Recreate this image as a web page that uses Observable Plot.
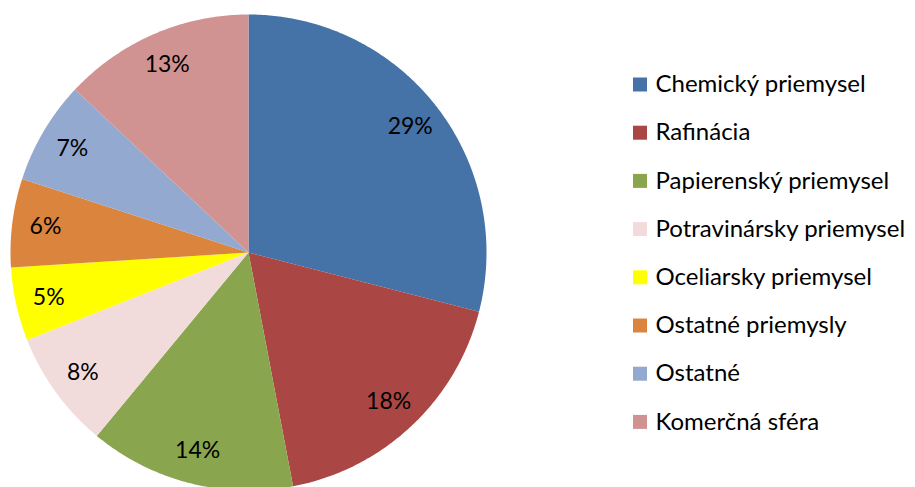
<!DOCTYPE html>
<html><head><meta charset="utf-8">
<script src="https://cdn.jsdelivr.net/npm/d3@7"></script>
<script src="https://cdn.jsdelivr.net/npm/@observablehq/plot@0.6"></script>
<style>body{margin:0;background:#fff;} #chart{width:915px;height:487px;overflow:hidden;}</style>
</head><body><div id="chart"></div>
<script>
const categories = ["Chemický priemysel","Rafinácia","Papierenský priemysel","Potravinársky priemysel","Oceliarsky priemysel","Ostatné priemysly","Ostatné","Komerčná sféra"];
const values = [29, 18, 14, 8, 5, 6, 7, 13];
const labels = ["29%","18%","14%","8%","5%","6%","7%","13%"];
const colors = ["#4572A7","#AA4643","#89A54E","#F2DCDB","#FFFF00","#DB843D","#93A9CF","#D19392"];

const W = 915, H = 487;
const cx = 248, cy = 252, R = 238;
const xRange = [cx - R, cx + R], yRange = [cy + R, cy - R];
const px = d3.scaleLinear().domain([-1, 1]).range(xRange);
const py = d3.scaleLinear().domain([-1, 1]).range(yRange);

const total = d3.sum(values);
const arcs = [];
const labelPts = [];
let acc = 0;
values.forEach((v, i) => {
  const a0 = acc / total * 2 * Math.PI;
  const a1 = (acc + v) / total * 2 * Math.PI;
  acc += v;
  arcs.push({cat: categories[i], x: 0, y: 0, k: 0});
  const n = Math.max(2, Math.ceil((a1 - a0) / 0.01));
  for (let j = 0; j <= n; j++) {
    const a = a0 + (a1 - a0) * j / n;
    arcs.push({cat: categories[i], x: Math.sin(a), y: Math.cos(a), k: j + 1});
  }
  const m = (a0 + a1) / 2;
  labelPts.push({label: labels[i], x: 0.86 * Math.sin(m), y: 0.86 * Math.cos(m)});
});

const legendRows = categories.map((c, i) => ({
  cat: c,
  sx: px.invert(639.5), tx: px.invert(655),
  y: py.invert(84 + 48.2 * i)
}));

const chart = Plot.plot({
  width: W, height: H,
  margin: 0,
  style: {fontFamily: "Lato, sans-serif", background: "#fff"},
  x: {domain: [-1, 1], range: xRange, axis: null},
  y: {domain: [-1, 1], range: yRange, axis: null},
  color: {domain: categories, range: colors},
  marks: [
    Plot.line(arcs, {x: "x", y: "y", z: "cat", fill: "cat", stroke: "none", curve: "linear-closed"}),
    Plot.text(labelPts, {x: "x", y: "y", text: "label", fontSize: 23, fill: "#000"}),
    Plot.dot(legendRows, {x: "sx", y: "y", fill: "cat", symbol: "square", r: 7.9, stroke: "none"}),
    Plot.text(legendRows, {x: "tx", y: "y", text: "cat", textAnchor: "start", fontSize: 24, fill: "#000"})
  ]
});
document.getElementById("chart").appendChild(chart);
</script></body></html>
